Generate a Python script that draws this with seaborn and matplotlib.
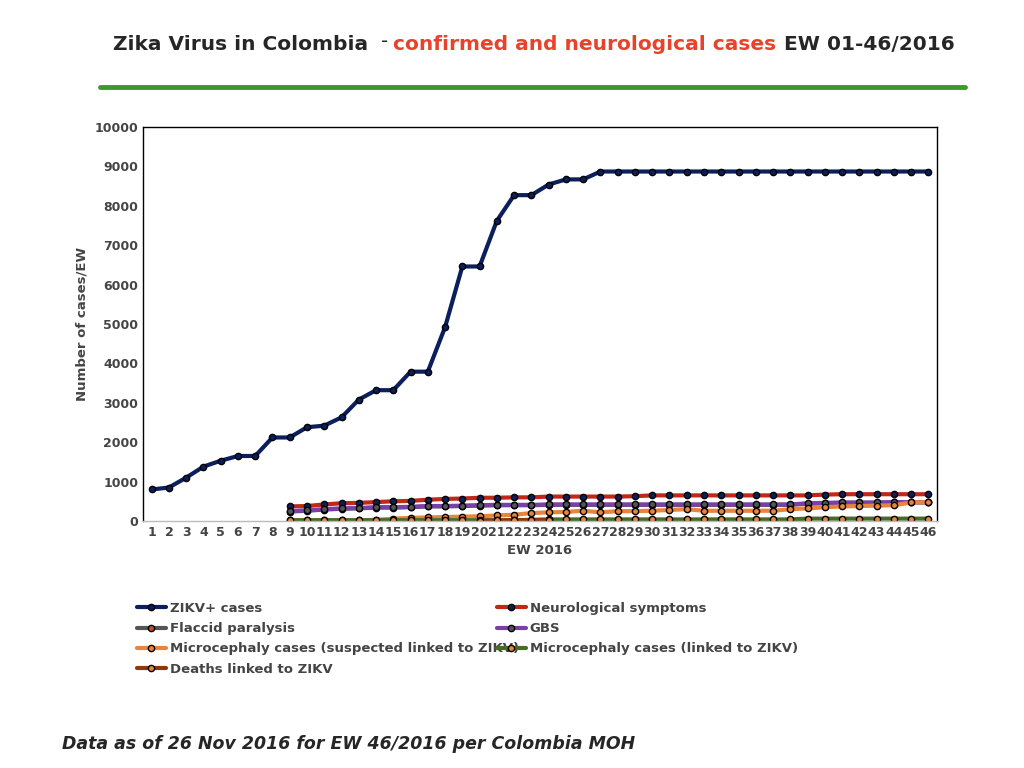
import matplotlib
matplotlib.use("Agg")
import matplotlib.pyplot as plt
import seaborn as sns
import numpy as np
import pandas as pd

weeks = list(range(1, 47))
zikv = [800,850,1100,1380,1530,1650,1650,2120,2120,2380,2420,2630,3080,3320,3320,3790,3790,4920,6460,6460,7620,8270,8270,8540,8670,8670] + [8870]*20
w9 = list(range(9, 47))
neuro = [370,380,420,450,460,480,500,510,540,560,570,590,590,600,600,620,620,620,620,620,630,650,650,650,650,650,650,650,650,650,650,670,680,680,680,680,680,680]
gbs = [250,270,300,320,330,350,350,360,380,380,390,400,410,410,410,420,420,420,420,420,420,420,420,420,420,420,420,420,420,420,450,460,470,470,470,480,480,480]
flaccid = [240,260,290,310,320,340,340,350,370,370,380,390,400,400,400,410,410,410,410,410,410,410,410,410,410,410,410,410,410,410,440,450,460,460,460,470,470,470]
micro_susp = [20,20,20,20,20,30,60,80,90,100,110,120,140,160,200,220,230,260,220,250,250,260,280,300,260,260,260,260,260,300,320,350,370,380,390,400,470,480]
micro_link = [20,20,20,20,20,20,20,20,20,20,20,20,20,20,30,40,40,40,40,40,40,40,40,40,40,40,40,40,40,40,60,60,60,60,60,60,60,60]
deaths_w = [20,21,22,23,24]
deaths = [10,15,20,25,25]

fig = plt.figure(figsize=(10.24, 7.68), dpi=100)
ax = fig.add_axes([143/1024, 1-521/768, (937-143)/1024, (521-127)/768])
sns.set_style("white")

def draw(x, y, color, label, mfc):
    sns.lineplot(x=x, y=y, ax=ax, color=color, lw=3, label=label, marker="o",
                 markersize=4.5, markerfacecolor=mfc, markeredgecolor="black", markeredgewidth=1)

draw(weeks, zikv, "#0b1f5c", "ZIKV+ cases", "#0b1f5c")
draw(w9, neuro, "#c0281c", "Neurological symptoms", "#0b1f5c")
draw(w9, flaccid, "#555555", "Flaccid paralysis", "#c05030")
draw(w9, gbs, "#7a3fa8", "GBS", "#555555")
draw(w9, micro_susp, "#e8843c", "Microcephaly cases (suspected linked to ZIKV)", "#e8843c")
draw(w9, micro_link, "#4a6a2a", "Microcephaly cases (linked to ZIKV)", "#e8843c")
draw(deaths_w, deaths, "#8b3a0e", "Deaths linked to ZIKV", "#e8843c")

ax.set_xlim(0.5, 46.5)
ax.set_ylim(0, 10000)
ax.set_yticks(range(0, 10001, 1000))
ax.set_xticks(weeks)
ax.tick_params(labelsize=9, length=0)
for t in ax.get_xticklabels() + ax.get_yticklabels():
    t.set_fontweight("bold"); t.set_color("#444444")
ax.set_xlabel("EW 2016", fontsize=9.5, fontweight="bold", color="#444444")
ax.set_ylabel("Number of cases/EW", fontsize=9.5, fontweight="bold", color="#444444")
for s in ax.spines.values():
    s.set_color("black"); s.set_linewidth(1)
ax.spines["bottom"].set_color("#bbbbbb")

h, l = ax.get_legend_handles_labels()
ax.get_legend().remove()
# two legends columns, filled row-wise
left = [0, 2, 4, 6]
right = [1, 3, 5]
for idxs, x0 in ((left, 125), (right, 485)):
    lg = fig.legend([h[i] for i in idxs], [l[i] for i in idxs], loc="upper left",
                    bbox_to_anchor=(x0/1024, 1-590/768), frameon=False,
                    labelspacing=0.55, handlelength=2.2, handletextpad=0.3,
                    prop={"weight": "bold", "size": 9.5})
    for t in lg.get_texts():
        t.set_color("#444444")

fig.text(113/1024, 1-45/768, "Zika Virus in Colombia", fontsize=14.5, fontweight="bold", va="center")
fig.text(381/1024, 1-42/768, "-", fontsize=14, va="center")
fig.text(393/1024, 1-45/768, "confirmed and neurological cases", fontsize=14.5, fontweight="bold", color="#e8412c", va="center")
fig.text(955/1024, 1-45/768, "EW 01-46/2016", fontsize=14.5, fontweight="bold", va="center", ha="right")
fig.add_artist(plt.Line2D([100/1024, 965/1024], [1-87/768]*2, color="#3a9a2a", lw=3.5))
fig.text(62/1024, 1-744/768, "Data as of 26 Nov 2016 for EW 46/2016 per Colombia MOH", fontsize=12.5,
         fontweight="bold", fontstyle="italic", va="center")

fig.savefig("out.png", dpi=100)
